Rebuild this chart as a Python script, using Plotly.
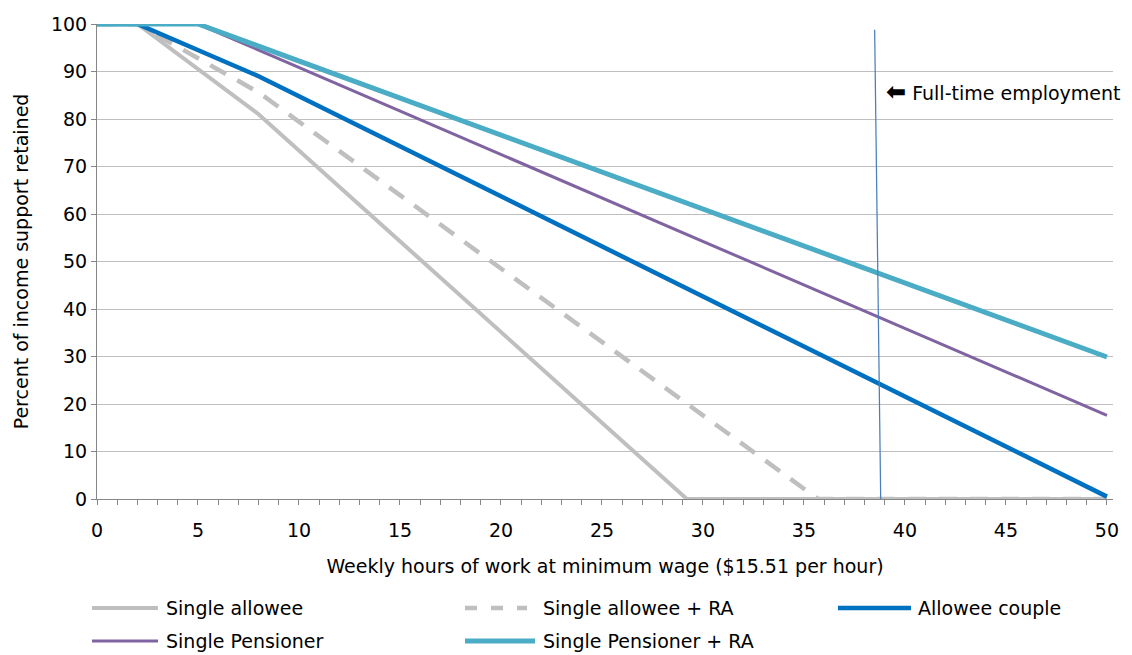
import plotly.graph_objects as go

# ---- data ----
single_allowee_x = [0, 2, 8, 29.2, 50]
single_allowee_y = [100, 100, 81, 0, 0]

single_allowee_ra_x = [0, 2, 8, 35.7, 50]
single_allowee_ra_y = [100, 100, 85.6, 0, 0]

allowee_couple_x = [0, 2, 8, 50]
allowee_couple_y = [100, 100, 89, 0.5]

single_pensioner_x = [0, 5, 50]
single_pensioner_y = [100, 100, 17.6]

single_pensioner_ra_x = [0, 5, 50]
single_pensioner_ra_y = [100, 100, 29.9]

fulltime_x = [38.5, 38.8]
fulltime_y = [98.8, 0]

x_tick_vals = [0, 5, 10, 15, 20, 25, 30, 35, 40, 45, 50]
y_tick_vals = [0, 10, 20, 30, 40, 50, 60, 70, 80, 90, 100]

series_names = ["Single allowee", "Single allowee + RA", "Allowee couple",
                "Single Pensioner", "Single Pensioner + RA"]

FONT = "DejaVu Sans"
FS = 19
GRID = "#BFBFBF"
AXIS = "#868686"

OFF = 8  # page body margin shifts the figure by 8px
W, H = 1132, 655
ML, MR, MT, MB = 89, 27, 16, 164
PW, PH = W - ML - MR, H - MT - MB

def px(x):  # screen pixel -> paper fraction
    return (x - OFF - ML) / PW

def py(y):
    return (H - MB - (y - OFF)) / PH

styles = [
    dict(color="#BFBFBF", width=4),
    dict(color="#BFBFBF", width=4.5, dash="18px,13px"),
    dict(color="#0070C0", width=4.5),
    dict(color="#8064A2", width=3),
    dict(color="#4BACC6", width=5),
]
xs = [single_allowee_x, single_allowee_ra_x, allowee_couple_x, single_pensioner_x, single_pensioner_ra_x]
ys = [single_allowee_y, single_allowee_ra_y, allowee_couple_y, single_pensioner_y, single_pensioner_ra_y]

fig = go.Figure()
for name, x, y, st in zip(series_names, xs, ys, styles):
    fig.add_trace(go.Scatter(x=x, y=y, mode="lines", name=name, line=st, showlegend=False))

fig.add_trace(go.Scatter(x=fulltime_x, y=fulltime_y, mode="lines",
                         showlegend=False, hoverinfo="skip",
                         line=dict(color="#4A7EBB", width=1.25)))

fig.add_annotation(x=38.95, y=85.7, xref="x", yref="y", xanchor="left", yanchor="middle",
                   text="<span style='font-size:24px;font-weight:bold'>⬅</span> Full-time employment",
                   showarrow=False,
                   font=dict(family=FONT, size=FS, color="#000000"))

# legend drawn in figure space (two rows, three columns)
legend_pos = [  # (sample x0, sample x1, text x, row y) in screen pixels
    (92, 158, 164, 608),
    (465, 527, 541, 608),
    (838, 911, 916, 608),
    (92, 158, 164, 641),
    (465, 535, 541, 641),
]
legend_dash = [None, "12px,14px", None, None, None]
for name, st, (x0, x1, tx, ry), dsh in zip(series_names, styles, legend_pos, legend_dash):
    ln = dict(color=st["color"], width=st["width"])
    if dsh:
        ln["dash"] = dsh
    fig.add_shape(type="line", xref="paper", yref="paper",
                  x0=px(x0), x1=px(x1), y0=py(ry), y1=py(ry), line=ln)
    fig.add_annotation(x=px(tx), y=py(ry), xref="paper", yref="paper",
                       xanchor="left", yanchor="middle", text=name, showarrow=False,
                       font=dict(family=FONT, size=FS, color="#000000"))

fig.update_layout(
    width=W, height=H,
    margin=dict(l=ML, r=MR, t=MT, b=MB, autoexpand=False),
    paper_bgcolor="white", plot_bgcolor="white",
    font=dict(family=FONT, size=FS, color="#000000"),
    showlegend=False,
)

fig.update_xaxes(
    range=[0, 50.3], tickvals=x_tick_vals, ticks="outside", ticklen=5,
    tickcolor=AXIS, showline=True, linecolor=AXIS, linewidth=1,
    showgrid=False, zeroline=False, automargin=False, ticklabelstandoff=9,
    minor=dict(dtick=1, tick0=0, ticks="outside", ticklen=5, tickcolor=AXIS, showgrid=False),
    title=dict(text="Weekly hours of work at minimum wage ($15.51 per hour)",
               font=dict(family=FONT, size=FS), standoff=19),
    tickfont=dict(family=FONT, size=FS),
)
fig.update_yaxes(
    range=[0, 100], tickvals=y_tick_vals, ticks="outside", ticklen=5,
    tickcolor=AXIS, showline=True, linecolor=AXIS, linewidth=1,
    showgrid=True, gridcolor=GRID, gridwidth=1, zeroline=False, automargin=False,
    title=dict(text="Percent of income support retained",
               font=dict(family=FONT, size=FS), standoff=17),
    tickfont=dict(family=FONT, size=FS),
)

fig.write_html("out.html")
